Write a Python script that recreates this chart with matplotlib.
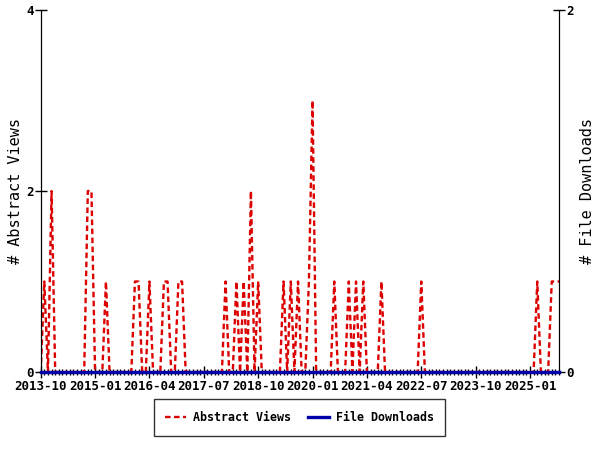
import matplotlib
matplotlib.use('Agg')
import matplotlib.pyplot as plt
import pandas as pd
from matplotlib.ticker import FixedLocator

# ---------------- data ----------------
months = pd.date_range('2013-10-01', '2025-09-01', freq='MS').strftime('%Y-%m').tolist()

abstract_views = [
    0, 1, 0, 2, 0, 0, 0, 0, 0, 0, 0, 0,
    0, 2, 2, 0, 0, 0, 1, 0, 0, 0, 0, 0,
    0, 0, 1, 1, 0, 0, 1, 0, 0, 0, 1, 1,
    0, 0, 1, 1, 0, 0, 0, 0, 0, 0, 0, 0,
    0, 0, 0, 1, 0, 0, 1, 0, 1, 0, 2, 0,
    1, 0, 0, 0, 0, 0, 0, 1, 0, 1, 0, 1,
    0, 0, 1, 3, 0, 0, 0, 0, 0, 1, 0, 0,
    0, 1, 0, 1, 0, 1, 0, 0, 0, 0, 1, 0,
    0, 0, 0, 0, 0, 0, 0, 0, 0, 1, 0, 0,
    0, 0, 0, 0, 0, 0, 0, 0, 0, 0, 0, 0,
    0, 0, 0, 0, 0, 0, 0, 0, 0, 0, 0, 0,
    0, 0, 0, 0, 0, 1, 0, 0, 0, 1, 1, 1,
]

file_downloads = [
    0, 0, 0, 0, 0, 0, 0, 0, 0, 0, 0, 0,
    0, 0, 0, 0, 0, 0, 0, 0, 0, 0, 0, 0,
    0, 0, 0, 0, 0, 0, 0, 0, 0, 0, 0, 0,
    0, 0, 0, 0, 0, 0, 0, 0, 0, 0, 0, 0,
    0, 0, 0, 0, 0, 0, 0, 0, 0, 0, 0, 0,
    0, 0, 0, 0, 0, 0, 0, 0, 0, 0, 0, 0,
    0, 0, 0, 0, 0, 0, 0, 0, 0, 0, 0, 0,
    0, 0, 0, 0, 0, 0, 0, 0, 0, 0, 0, 0,
    0, 0, 0, 0, 0, 0, 0, 0, 0, 0, 0, 0,
    0, 0, 0, 0, 0, 0, 0, 0, 0, 0, 0, 0,
    0, 0, 0, 0, 0, 0, 0, 0, 0, 0, 0, 0,
    0, 0, 0, 0, 0, 0, 0, 0, 0, 0, 0, 0,
]

left_ticks = [0, 2, 4]
right_ticks = [0, 2]
label_every = 15

# ---------------- plot ----------------
plt.rcParams['font.family'] = ['DejaVu Sans Mono']
plt.rcParams['lines.scale_dashes'] = False

fig = plt.figure(figsize=(6, 4.5), dpi=100)
ax = fig.add_axes([40.7 / 600, 1 - 372 / 450, (559 - 40.7) / 600, (372 - 10) / 450])
x = list(range(len(months)))

ax.plot(x, abstract_views, color='#dd0000', lw=1.7, linestyle=(0, (4, 2.5)),
        label='Abstract Views')
ax.set_xlim(0, len(months) - 1)
ax.set_ylim(0, 4)
ax.set_yticks(left_ticks)
ax.set_ylabel('# Abstract Views', fontsize=11, labelpad=2.5)

ax2 = ax.twinx()
ax2.plot(x, file_downloads, color='#0000aa', lw=2.4, label='File Downloads',
         clip_on=False, zorder=5)
ax2.set_ylim(0, 2)
ax2.set_yticks(right_ticks)
ax2.set_ylabel('# File Downloads', fontsize=11, labelpad=5)

major = x[::label_every]
ax.xaxis.set_major_locator(FixedLocator(major))
ax.set_xticklabels([months[i] for i in major])
ax.xaxis.set_minor_locator(FixedLocator(x))

for a in (ax, ax2):
    a.spines['top'].set_visible(False)
    a.tick_params(axis='both', which='major', direction='inout', length=8,
                  width=1, labelsize=9, pad=2)
    a.tick_params(axis='x', which='minor', direction='inout', length=5, width=1)
    for lab in a.get_xticklabels() + a.get_yticklabels():
        lab.set_fontweight('bold')
ax.tick_params(axis='y', pad=1)
ax2.tick_params(axis='y', pad=1)
ax2.spines['bottom'].set_visible(False)
ax.spines['bottom'].set_zorder(0)

h1, l1 = ax.get_legend_handles_labels()
h2, l2 = ax2.get_legend_handles_labels()
leg = fig.legend(h1 + h2, l1 + l2, loc='center', bbox_to_anchor=(0.499, 0.072),
                 ncol=2, frameon=True, fancybox=False, edgecolor='black',
                 prop={'weight': 'bold', 'size': 8.4}, handlelength=1.8,
                 columnspacing=1.4, borderpad=1.0, handletextpad=0.6,
                 borderaxespad=0)
leg.get_frame().set_linewidth(1.0)

fig.savefig('out.png', dpi=100)
